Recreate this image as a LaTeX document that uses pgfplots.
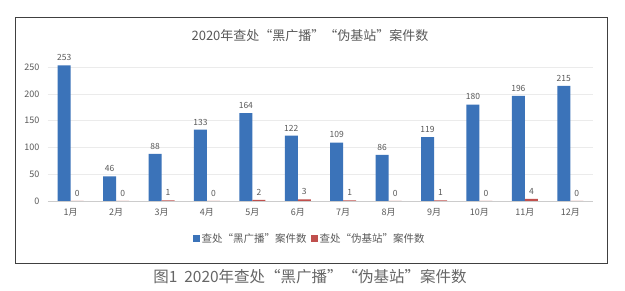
\documentclass[border=0pt]{standalone}
\usepackage{fontspec}
\setmainfont{Noto Sans CJK SC}
\usepackage{pgfplots}
\pgfplotsset{compat=1.18}
\definecolor{barblue}{HTML}{3B73B9}
\definecolor{barred}{HTML}{C0504D}
\definecolor{txt}{HTML}{595959}
\begin{document}
\begin{tikzpicture}[x=1pt,y=1pt]
\useasboundingbox (0,0) rectangle (625,-291);
\fill[white] (0,0) rectangle (625,-291);
\draw[black!75, line width=0.8pt] (15,-17) rectangle (607,-263);
\node[color=txt, font=\fontsize{13}{15}\selectfont] at (310,-36) {2020年查处“黑广播”“伪基站”案件数};
\node[color=black!60, font=\fontsize{15.5}{17}\selectfont] at (310,-277) {图1\ \ 2020年查处“黑广播”“伪基站”案件数};
\begin{axis}[
  at={(48pt,-201pt)}, anchor=south west, scale only axis,
  width=545pt, height=150pt,
  xmin=-0.5, xmax=11.5, ymin=0, ymax=280,
  ybar=0pt, bar width=13pt,
  xtick={0,...,11},
  xticklabels={1月,2月,3月,4月,5月,6月,7月,8月,9月,10月,11月,12月},
  ytick={0,50,...,250},
  /pgf/number format/assume math mode=true,
  axis lines*=left,
  y axis line style={draw=none},
  x axis line style={draw=black!20},
  major tick length=0pt,
  ymajorgrids, grid style={draw=black!8},
  tick label style={color=txt, font=\fontsize{9}{10}\selectfont},
  xticklabel style={yshift=-4pt},
  yticklabel style={xshift=-5pt},
  nodes near coords,
  every node near coord/.append style={color=txt, font=\fontsize{8.5}{9}\selectfont, yshift=1pt},
  legend style={at={(0.48,-0.253)}, anchor=center, draw=none, fill=none,
    legend columns=2, font=\fontsize{10.5}{12}\selectfont, text=txt,
    /tikz/every even column/.append style={column sep=2pt}},
  legend image code/.code={\fill[#1] (0pt,-3.5pt) rectangle (7pt,3.5pt);},
]
\addplot[fill=barblue, draw=none] coordinates {(0,253) (1,46) (2,88) (3,133) (4,164) (5,122) (6,109) (7,86) (8,119) (9,180) (10,196) (11,215)};
\addplot[fill=barred, draw=none] coordinates {(0,0) (1,0) (2,1) (3,0) (4,2) (5,3) (6,1) (7,0) (8,1) (9,0) (10,4) (11,0)};
\legend{查处“黑广播”案件数,查处“伪基站”案件数}
\end{axis}
\end{tikzpicture}
\end{document}
